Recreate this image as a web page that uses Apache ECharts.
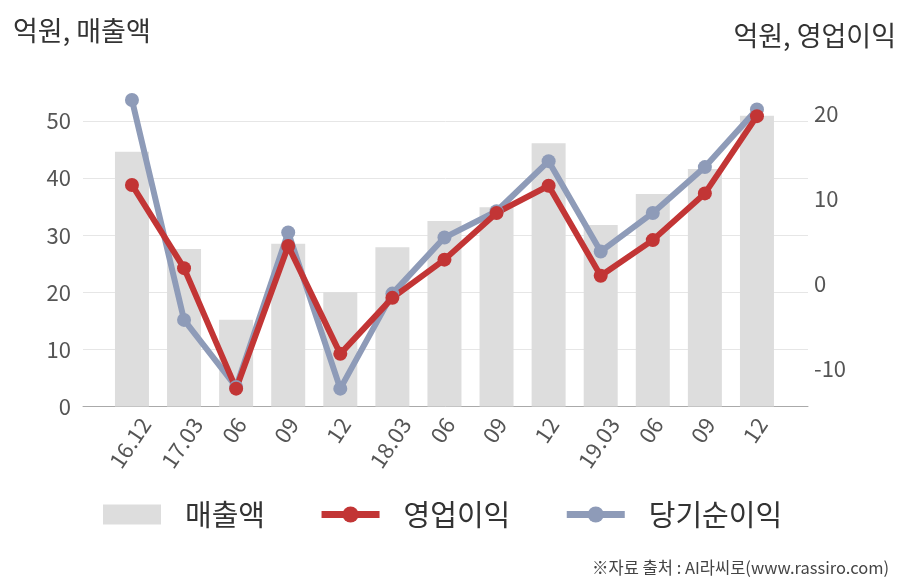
<!DOCTYPE html>
<html><head><meta charset="utf-8">
<script src="https://cdn.jsdelivr.net/npm/echarts@6/dist/echarts.min.js"></script>
<style>html,body{margin:0;padding:0;background:#fff}#c{width:908px;height:580px}</style>
</head><body><div id="c"></div>
<script>
const categories = ['16.12','17.03','06','09','12','18.03','06','09','12','19.03','06','09','12'];
const sales = [44.6, 27.6, 15.2, 28.5, 20.0, 27.9, 32.5, 34.9, 46.1, 31.8, 37.2, 41.6, 50.9];
const opProfit = [11.6, 1.8, -12.4, 4.4, -8.3, -1.7, 2.8, 8.3, 11.5, 0.9, 5.1, 10.6, 19.7];
const netProfit = [21.6, -4.3, -12.2, 6.0, -12.4, -1.2, 5.4, 8.5, 14.4, 3.75, 8.3, 13.7, 20.5];
const leftTicks = [0, 10, 20, 30, 40, 50];
const rightTicks = [-10, 0, 10, 20];

const FONT = "'Noto Sans CJK KR', 'Noto Sans', sans-serif";
const LBL_FS = 22, LBL_ROT = 56;
const measureCtx = document.createElement('canvas').getContext('2d');
measureCtx.font = LBL_FS + 'px ' + FONT;

const chart = echarts.init(document.getElementById('c'), null, {renderer: 'canvas'});
const idx = categories.map((_, i) => i);
chart.setOption({
  animation: false,
  backgroundColor: '#fff',
  textStyle: {fontFamily: FONT},
  title: [
    {text: '억원, 매출액', left: 8, top: 12, textStyle: {fontSize: 27, fontWeight: 'normal', color: '#333', fontFamily: FONT}},
    {text: '억원, 영업이익', right: 7, top: 17, textStyle: {fontSize: 27, fontWeight: 'normal', color: '#333', fontFamily: FONT}},
    {text: '※자료 출처 : AI라씨로(www.rassiro.com)', right: 14, top: 554, textStyle: {fontSize: 16.5, fontWeight: 'normal', color: '#444', fontFamily: FONT}}
  ],
  legend: {
    data: [{name: '매출액', icon: 'rect'}, {name: '영업이익'}, {name: '당기순이익'}],
    top: 495, left: 98,
    itemWidth: 58, itemHeight: 20, itemGap: 53,
    lineStyle: {width: 7},
    textStyle: {fontSize: 29, color: '#333', fontFamily: FONT, padding: [0, 0, 0, 19]}
  },
  grid: {left: 83, right: 100, top: 92.4, bottom: 173.5},
  xAxis: {
    type: 'value', min: -0.94, max: 12.98,
    axisLine: {show: true, onZero: false, lineStyle: {color: '#aaa', width: 1}},
    axisTick: {show: false},
    splitLine: {show: false},
    axisLabel: {show: false}
  },
  yAxis: [
    {
      type: 'value', min: 0, max: 55, interval: 10, position: 'left',
      axisLine: {show: false}, axisTick: {show: false},
      splitLine: {show: true, showMaxLine: false, lineStyle: {color: '#e6e6e6', width: 1}},
      axisLabel: {customValues: leftTicks, fontSize: 22, color: '#555', margin: 12, fontFamily: FONT}
    },
    {
      type: 'value', min: -14.5, max: 22.5, position: 'right',
      axisLine: {show: false}, axisTick: {show: false},
      splitLine: {show: false},
      axisLabel: {customValues: rightTicks, fontSize: 22, color: '#555', margin: 6, fontFamily: FONT}
    }
  ],
  series: [
    {
      name: '매출액', type: 'bar', yAxisIndex: 0, barWidth: 34,
      itemStyle: {color: '#dddddd'},
      data: sales.map((v, i) => [i, v])
    },
    {
      name: '당기순이익', type: 'line', yAxisIndex: 1,
      symbol: 'circle', symbolSize: 14,
      lineStyle: {color: '#8e9bb8', width: 6},
      itemStyle: {color: '#8e9bb8'},
      data: netProfit.map((v, i) => [i, v])
    },
    {
      name: '영업이익', type: 'line', yAxisIndex: 1,
      symbol: 'circle', symbolSize: 14,
      lineStyle: {color: '#c23535', width: 6},
      itemStyle: {color: '#c23535'},
      data: opProfit.map((v, i) => [i, v])
    },
    {
      name: 'xlabels', type: 'custom', yAxisIndex: 0, silent: true, clip: false,
      data: idx.map(i => [i, 0]),
      renderItem: (params, api) => {
        const i = api.value(0);
        const p = api.coord([i, 0]);
        const text = categories[i];
        const w = measureCtx.measureText(text).width;
        const h = LBL_FS * 0.74;
        const th = LBL_ROT * Math.PI / 180;
        const boxH = w * Math.sin(th) + h * Math.cos(th);
        return {
          type: 'text',
          x: p[0] - 2, y: p[1] + 9 + boxH / 2,
          rotation: th,
          style: {text: text, fontSize: LBL_FS, fontFamily: FONT, fill: '#555', align: 'center', verticalAlign: 'middle'}
        };
      }
    }
  ]
});
</script></body></html>
